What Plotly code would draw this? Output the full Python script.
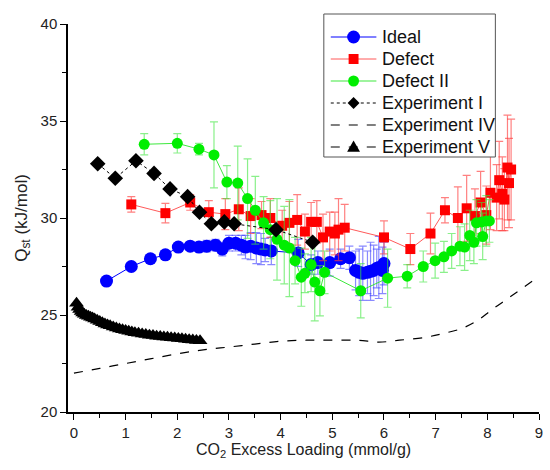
import plotly.graph_objects as go

# --- Ideal framework ---
ideal_x = [0.63, 1.11, 1.48, 1.77, 2.02, 2.25, 2.42, 2.57, 2.74, 2.87, 3.00, 3.13,
           3.24, 3.32, 3.42, 3.53, 3.62, 3.70, 3.82, 4.34, 4.59, 4.72, 4.95, 5.16,
           5.33, 5.45, 5.52, 5.59, 5.68, 5.74, 5.80, 5.86, 5.90, 5.97, 6.00]
ideal_y = [26.75, 27.50, 27.90, 28.10, 28.50, 28.55, 28.50, 28.55, 28.60, 28.40, 28.70, 28.70,
           28.60, 28.50, 28.55, 28.45, 28.40, 28.35, 28.30, 28.20, 27.60, 27.70, 27.70, 27.90,
           27.95, 27.30, 27.20, 27.15, 27.20, 27.25, 27.30, 27.40, 27.45, 27.30, 27.65]
ideal_err = [0.0, 0.0, 0.0, 0.0, 0.1, 0.2, 0.25, 0.3, 0.3, 0.35, 0.4, 0.4,
             0.5, 0.6, 0.7, 0.8, 0.8, 0.6, 0.7, 0.7, 0.5, 0.6, 0.7, 0.5,
             0.6, 1.0, 1.2, 1.4, 1.1, 1.5, 1.3, 1.0, 1.6, 1.2, 1.1]

# --- Defect framework ---
defect_x = [1.11, 1.77, 2.25, 2.61, 2.93, 3.19, 3.42, 3.63, 3.80, 4.03, 4.17, 4.32,
            4.47, 4.59, 4.70, 4.82, 4.95, 5.05, 5.12, 5.24, 6.00, 6.51, 6.90, 7.18,
            7.43, 7.60, 7.76, 7.87, 7.98, 8.06, 8.18, 8.23, 8.29, 8.33, 8.39, 8.42, 8.46]
defect_y = [30.70, 30.25, 30.80, 30.30, 30.20, 30.45, 30.10, 30.15, 30.00, 29.60, 29.75, 29.90,
            29.30, 29.80, 29.80, 29.00, 29.30, 29.20, 29.40, 29.50, 29.00, 28.40, 29.20, 30.40,
            30.00, 30.50, 30.10, 30.80, 30.15, 31.30, 31.05, 31.95, 31.25, 30.95, 32.60, 31.80, 32.50]
defect_err = [0.4, 0.5, 0.4, 0.6, 0.8, 1.1, 0.9, 0.7, 1.0, 0.8, 1.1, 1.3,
              0.9, 1.0, 1.1, 1.2, 1.0, 1.1, 1.6, 1.2, 0.85, 0.8, 1.05, 0.65,
              1.6, 1.7, 1.4, 1.6, 1.5, 1.9, 1.7, 2.0, 1.9, 1.6, 2.7, 2.3, 2.6]

# --- Defect II framework ---
defect2_x = [1.36, 2.00, 2.42, 2.71, 2.96, 3.17, 3.36, 3.51, 3.67, 3.80, 3.93, 4.07,
             4.17, 4.28, 4.40, 4.47, 4.59, 4.66, 4.76, 4.85, 5.55, 6.07, 6.45, 6.76,
             6.99, 7.16, 7.31, 7.47, 7.56, 7.66, 7.74, 7.79, 7.89, 7.91, 7.98, 8.04]
defect2_y = [33.80, 33.85, 33.55, 33.25, 31.85, 31.80, 31.00, 30.40, 29.75, 29.40, 28.90, 28.60,
             28.45, 27.80, 26.95, 27.15, 27.60, 26.70, 26.25, 27.20, 26.25, 26.90, 27.00, 27.50,
             27.80, 28.00, 28.30, 28.55, 28.50, 29.10, 28.75, 29.75, 29.80, 29.05, 29.85, 29.85]
defect2_err = [0.55, 0.5, 0.3, 1.7, 0.85, 1.9, 2.05, 1.75, 1.35, 1.5, 2.1, 2.0,
               2.5, 1.2, 1.5, 1.0, 1.4, 2.0, 1.3, 1.1, 1.4, 1.5, 0.6, 0.8,
               0.9, 0.8, 0.9, 1.0, 1.2, 1.3, 1.1, 1.2, 1.0, 1.2, 1.3, 1.1]

# --- Experiment I ---
exp1_x = [0.46, 0.80, 1.20, 1.55, 1.86, 2.20, 2.43, 2.66, 2.91, 3.10, 3.91, 4.62]
exp1_y = [32.80, 32.05, 32.95, 32.30, 31.50, 31.10, 30.30, 29.70, 29.80, 29.70, 29.40, 28.75]

# --- Experiment IV ---
exp4_x = [0.00, 0.50, 1.00, 1.50, 2.00, 2.50, 3.00, 3.50, 4.00, 4.50, 5.00, 5.50,
          5.90, 6.30, 6.80, 7.15, 7.50, 7.80, 8.10, 8.45, 8.95]
exp4_y = [22.00, 22.25, 22.50, 22.75, 23.00, 23.20, 23.35, 23.50, 23.65, 23.70, 23.70, 23.70,
          23.60, 23.70, 23.85, 24.05, 24.30, 24.70, 25.30, 25.95, 26.90]

# --- Experiment V ---
exp5_x = [0.05, 0.08, 0.11, 0.14, 0.17, 0.20, 0.24, 0.28, 0.32, 0.36, 0.40, 0.45,
          0.50, 0.55, 0.60, 0.65, 0.70, 0.76, 0.82, 0.88, 0.94, 1.00, 1.06, 1.12,
          1.18, 1.25, 1.32, 1.39, 1.46, 1.53, 1.60, 1.67, 1.74, 1.81, 1.88, 1.95,
          2.02, 2.09, 2.16, 2.23, 2.30, 2.37, 2.44]
exp5_y = [25.60, 25.40, 25.28, 25.18, 25.10, 25.04, 24.98, 24.93, 24.89, 24.85, 24.80, 24.73,
          24.66, 24.60, 24.54, 24.49, 24.44, 24.38, 24.33, 24.28, 24.24, 24.20, 24.16, 24.12,
          24.09, 24.06, 24.02, 23.99, 23.96, 23.94, 23.91, 23.89, 23.87, 23.85, 23.83, 23.81,
          23.79, 23.77, 23.75, 23.73, 23.71, 23.69, 23.67]

series_names = ["Ideal", "Defect", "Defect II", "Experiment I", "Experiment IV", "Experiment V"]

x_ticks = [0, 1, 2, 3, 4, 5, 6, 7, 8, 9]
y_ticks = [20, 25, 30, 35, 40]

FONT = "Arial, Liberation Sans, sans-serif"
W, H = 550, 470
ML, MR, MT, MB = 68, 7, 24, 58
PW, PH = W - ML - MR, H - MT - MB

BLUE = "#0000FF"
RED = "#FF0000"
GREEN = "#00EE00"

styles = [
    dict(line=dict(color=BLUE, width=1), marker=dict(symbol="circle", size=13, color=BLUE)),
    dict(line=dict(color="rgba(255,60,60,0.85)", width=1), marker=dict(symbol="square", size=10, color=RED)),
    dict(line=dict(color="rgba(40,230,40,0.9)", width=1), marker=dict(symbol="circle", size=11, color=GREEN)),
    dict(line=dict(color="black", width=1, dash="dot"), marker=dict(symbol="diamond", size=12, color="black")),
    dict(line=dict(color="black", width=1.2, dash="dash", shape="spline"), marker=None),
    dict(line=dict(color="black", width=1.2, dash="dash"), marker=dict(symbol="triangle-up", size=13, color="black")),
]

fig = go.Figure()

fig.add_trace(go.Scatter(
    x=ideal_x, y=ideal_y, name=series_names[0], mode="lines+markers", **styles[0],
    error_y=dict(type="data", array=ideal_err, color="rgba(60,60,255,0.6)", thickness=1.2, width=4),
))
fig.add_trace(go.Scatter(
    x=defect_x, y=defect_y, name=series_names[1], mode="lines+markers", **styles[1],
    error_y=dict(type="data", array=defect_err, color="rgba(255,60,60,0.65)", thickness=1.2, width=4),
))
fig.add_trace(go.Scatter(
    x=defect2_x, y=defect2_y, name=series_names[2], mode="lines+markers", **styles[2],
    error_y=dict(type="data", array=defect2_err, color="rgba(60,230,60,0.6)", thickness=1.2, width=4),
))
fig.add_trace(go.Scatter(x=exp1_x, y=exp1_y, name=series_names[3], mode="lines+markers", **styles[3]))
fig.add_trace(go.Scatter(x=exp4_x, y=exp4_y, name=series_names[4], mode="lines", line=styles[4]["line"]))
fig.add_trace(go.Scatter(x=exp5_x, y=exp5_y, name=series_names[5], mode="lines+markers", **styles[5]))


# ---- legend drawn as layout shapes/annotations (pixel layout -> paper coords) ----
def px_x(p):
    return (p - ML) / PW


def px_y(p):
    return (H - MB - p) / PH


shapes = []
annotations = []

box_l, box_r, box_t, box_b = 326, 499, 14, 157
shapes.append(dict(type="rect", xref="paper", yref="paper",
                   x0=px_x(box_l), x1=px_x(box_r), y0=px_y(box_b), y1=px_y(box_t),
                   line=dict(color="#555", width=1), fillcolor="white", layer="above"))

row0, row_gap = 37, 22
sym_l, sym_r, sym_c, text_x = 333, 379, 356, 383

for i, (name, st) in enumerate(zip(series_names, styles)):
    cy = row0 + i * row_gap
    ln = st["line"]
    shapes.append(dict(type="line", xref="paper", yref="paper",
                       x0=px_x(sym_l), x1=px_x(sym_r), y0=px_y(cy), y1=px_y(cy),
                       line=dict(color=ln["color"], width=ln["width"], dash=ln.get("dash", "solid")),
                       layer="above"))
    mk = st["marker"]
    if mk is not None:
        r = mk["size"] / 2
        col = mk["color"]
        if mk["symbol"] == "circle":
            shapes.append(dict(type="circle", xref="paper", yref="paper",
                               x0=px_x(sym_c - r), x1=px_x(sym_c + r),
                               y0=px_y(cy + r), y1=px_y(cy - r),
                               line=dict(width=0), fillcolor=col, layer="above"))
        elif mk["symbol"] == "square":
            shapes.append(dict(type="rect", xref="paper", yref="paper",
                               x0=px_x(sym_c - r), x1=px_x(sym_c + r),
                               y0=px_y(cy + r), y1=px_y(cy - r),
                               line=dict(width=0), fillcolor=col, layer="above"))
        else:
            if mk["symbol"] == "diamond":
                pts = [(sym_c, cy - r), (sym_c + r, cy), (sym_c, cy + r), (sym_c - r, cy)]
            else:
                pts = [(sym_c, cy - r), (sym_c + r, cy + r * 0.75), (sym_c - r, cy + r * 0.75)]
            path = "M " + " L ".join(f"{px_x(a):.5f},{px_y(b):.5f}" for a, b in pts) + " Z"
            shapes.append(dict(type="path", xref="paper", yref="paper", path=path,
                               line=dict(width=0), fillcolor=col, layer="above"))
    annotations.append(dict(xref="paper", yref="paper", x=px_x(text_x), y=px_y(cy),
                            xanchor="left", yanchor="middle", text=name, showarrow=False,
                            font=dict(family=FONT, size=18, color="#111")))

# x-axis title placed just under the tick labels
annotations.append(dict(xref="paper", yref="paper", x=0.5, y=px_y(450),
                        xanchor="center", yanchor="middle", showarrow=False,
                        text="CO<sub>2</sub> Excess Loading (mmol/g)",
                        font=dict(family=FONT, size=16, color="#222")))

axis_common = dict(
    showline=True, linecolor="black", linewidth=1.5, mirror=False,
    showgrid=False, zeroline=False,
    ticks="outside", ticklen=6, tickwidth=1.3, tickcolor="black",
    tickfont=dict(family=FONT, size=15, color="#222"),
)

fig.update_layout(
    width=W, height=H,
    margin=dict(l=ML, r=MR, t=MT, b=MB),
    paper_bgcolor="white", plot_bgcolor="white",
    font=dict(family=FONT, color="#222"),
    xaxis=dict(
        **axis_common,
        range=[-0.115, 9], tickvals=x_ticks,
        minor=dict(ticks="outside", ticklen=4, tickwidth=1.3, tickcolor="black", dtick=0.5, tick0=0),
    ),
    yaxis=dict(
        **axis_common,
        range=[20, 40], tickvals=y_ticks,
        minor=dict(ticks="outside", ticklen=4, tickwidth=1.3, tickcolor="black", dtick=2.5, tick0=20),
        title=dict(text="Q<sub>st</sub> (kJ/mol)", font=dict(family=FONT, size=17), standoff=9),
    ),
    shapes=shapes,
    annotations=annotations,
    showlegend=False,
)

fig.write_html("out.html")
